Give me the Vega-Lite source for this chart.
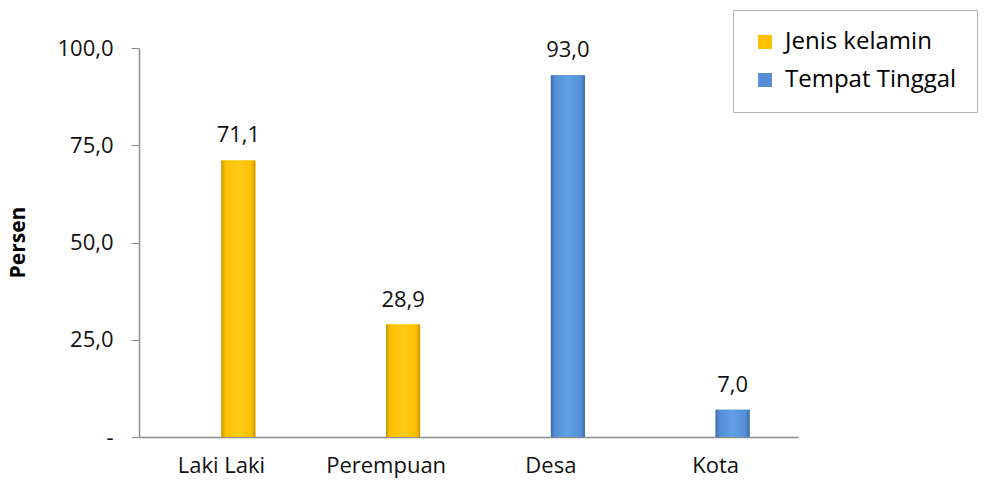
{
  "$schema": "https://vega.github.io/schema/vega-lite/v6.json",
  "width": 659,
  "height": 389,
  "autosize": "none",
  "padding": {"left": 139, "top": 48, "right": 194, "bottom": 47},
  "background": "white",
  "data": {"values": [
    {"kategori": "Laki Laki", "persen": 71.1, "kelompok": "Jenis kelamin"},
    {"kategori": "Perempuan", "persen": 28.9, "kelompok": "Jenis kelamin"},
    {"kategori": "Desa", "persen": 93.0, "kelompok": "Tempat Tinggal"},
    {"kategori": "Kota", "persen": 7.0, "kelompok": "Tempat Tinggal"}
  ]},
  "encoding": {
    "x": {
      "field": "kategori", "type": "nominal", "sort": null,
      "scale": {"paddingInner": 0, "paddingOuter": 0},
      "axis": {"title": null, "labelAngle": 0, "labelFont": "Open Sans", "labelFontSize": 22, "labelColor": "#111", "ticks": false, "domainColor": "#8c8c8c", "domainWidth": 1.5, "labelPadding": 18}
    },
    "y": {
      "field": "persen", "type": "quantitative",
      "scale": {"domain": [0, 100], "nice": false},
      "axis": {
        "title": "Persen", "titleFont": "Open Sans", "titleFontSize": 21, "titleFontWeight": "bold", "titleColor": "#000",
        "titleX": -121, "titleY": 194, "titleAngle": 270, "titleAlign": "center", "titleBaseline": "middle",
        "values": [0, 25, 50, 75, 100], "format": ".1f",
        "labelExpr": "datum.value === 0 ? '-' : datum.label",
        "labelFont": "Open Sans", "labelFontSize": 22, "labelColor": "#111", "labelPadding": 18,
        "tickSize": 8, "tickColor": "#8c8c8c", "domainColor": "#8c8c8c", "domainWidth": 1.5, "grid": false
      }
    }
  },
  "layer": [
    {
      "mark": {"type": "bar", "width": 34, "xOffset": 17},
      "encoding": {
        "color": {
          "field": "kelompok", "type": "nominal",
          "scale": {"domain": ["Jenis kelamin", "Tempat Tinggal"], "range": ["#FFC000", "#558ED5"]},
          "legend": {
            "title": null, "orient": "none", "legendX": 594, "legendY": -38,
            "symbolType": "square", "symbolSize": 196, "symbolStrokeWidth": 0,
            "labelFont": "Open Sans", "labelFontSize": 24, "labelColor": "#000", "labelOffset": 8, "labelLimit": 400,
            "padding": 20, "rowPadding": 14, "strokeColor": "#b4b4b4", "fillColor": "white"
          }
        }
      }
    },
    {
      "mark": {"type": "bar", "width": 34, "xOffset": 17},
      "encoding": {
        "fill": {
          "condition": {
            "test": "datum.kelompok === 'Jenis kelamin'",
            "value": {"gradient": "linear", "x1": 0, "y1": 0, "x2": 1, "y2": 0, "stops": [
              {"offset": 0, "color": "#C99600"}, {"offset": 0.12, "color": "#FFC000"}, {"offset": 0.5, "color": "#FFCB1A"}, {"offset": 0.88, "color": "#FFC000"}, {"offset": 1, "color": "#C99600"}]}
          },
          "value": {"gradient": "linear", "x1": 0, "y1": 0, "x2": 1, "y2": 0, "stops": [
            {"offset": 0, "color": "#3A6DB0"}, {"offset": 0.12, "color": "#558ED5"}, {"offset": 0.5, "color": "#62A0E4"}, {"offset": 0.88, "color": "#558ED5"}, {"offset": 1, "color": "#3A6DB0"}]}
        }
      }
    },
    {
      "mark": {"type": "text", "xOffset": 17, "dy": -13, "baseline": "bottom", "font": "Open Sans", "fontSize": 22, "color": "#111"},
      "encoding": {"text": {"field": "persen", "type": "quantitative", "format": ".1f"}}
    }
  ],
  "config": {
    "view": {"stroke": null},
    "locale": {"number": {"decimal": ",", "thousands": ".", "grouping": [3], "currency": ["", ""]}}
  }
}
